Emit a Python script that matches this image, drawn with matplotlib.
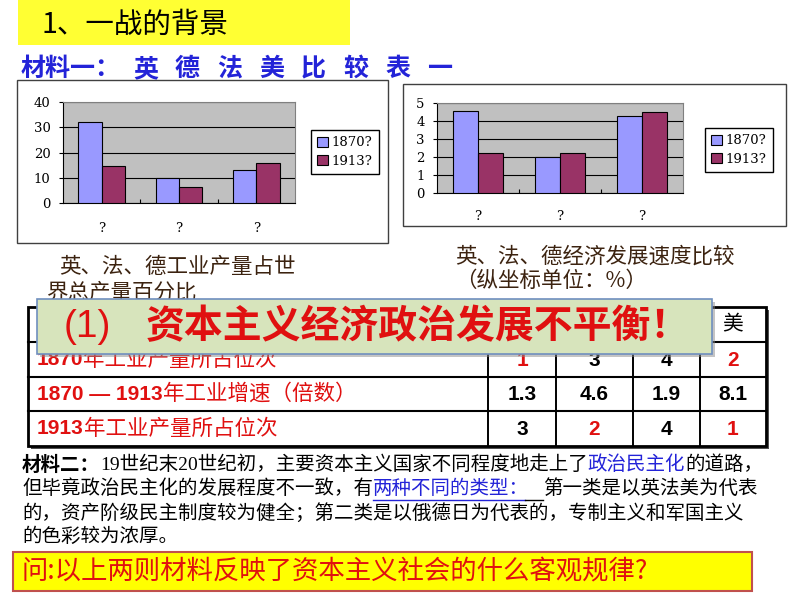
import numpy as np
import matplotlib
matplotlib.use("Agg")
import matplotlib.pyplot as plt
from matplotlib.patches import Rectangle

plt.rcParams['font.family'] = ['Noto Sans CJK SC', 'DejaVu Sans']

W, H = 794, 596

# chart data
groups = ['?', '?', '?']
series = ['1870?', '1913?']
share_1870 = [32, 10, 13]
share_1913 = [14.5, 6.2, 16]
speed_1870 = [4.55, 2.0, 4.3]
speed_1913 = [2.2, 2.2, 4.5]

# table data
countries = ['英', '德', '法', '美']
rank_1870 = [1, 3, 4, 2]
growth = [1.3, 4.6, 1.9, 8.1]
rank_1913 = [3, 2, 4, 1]

RED = '#E01010'
BLUE = '#2323D8'
BROWN = '#3C2310'
SERIF = ['Liberation Serif', 'Noto Sans CJK SC']
CHART_FONT = ['DejaVu Serif']

fig = plt.figure(figsize=(W / 100, H / 100), dpi=100)
fig.patch.set_facecolor('white')

# overlay axes in pixel units (1 unit = 1 px, y downwards)
ov = fig.add_axes([0, 0, 1, 1])
ov.set_xlim(0, W)
ov.set_ylim(H, 0)
ov.axis('off')
renderer = fig.canvas.get_renderer()


def runs(x, y, parts, zorder=5):
    """Draw text pieces one after the other, return the end x"""
    for txt, kw in parts:
        t = ov.text(x, y, txt, ha='left', va='center', zorder=zorder, **kw)
        x += t.get_window_extent(renderer).width
    return x


def bar_chart(box, v1, v2, ymax, step, leg_center, xpad):
    x0, y0, x1, y1 = box
    ax = fig.add_axes([x0 / W, 1 - y1 / H, (x1 - x0) / W, (y1 - y0) / H])
    ax.set_facecolor('#C0C0C0')
    pos = np.arange(len(groups))
    w = 0.3
    ax.bar(pos - w / 2, v1, w, color='#9999FF', edgecolor='black', lw=0.8, zorder=3, label=series[0])
    ax.bar(pos + w / 2, v2, w, color='#993366', edgecolor='black', lw=0.8, zorder=3, label=series[1])
    ax.set_xlim(-0.5, len(groups) - 0.5)
    ax.set_ylim(0, ymax)
    ax.set_yticks(np.arange(0, ymax + step / 2, step))
    ax.yaxis.grid(True, color='black', lw=0.8)
    ax.set_axisbelow(True)
    ax.set_xticks(pos[:-1] + 0.5)
    ax.set_xticklabels([])
    ax.set_xticks(pos, minor=True)
    ax.set_xticklabels(groups, minor=True, family=CHART_FONT, fontsize=9.5)
    ax.tick_params(axis='x', which='major', length=3, direction='in', width=0.8)
    ax.tick_params(axis='x', which='minor', length=0, pad=xpad)
    ax.tick_params(axis='y', length=3, width=0.8, pad=6, labelsize=9.5)
    for lab in ax.get_yticklabels():
        lab.set_family(CHART_FONT)
    for s in ['top', 'right']:
        ax.spines[s].set_color('#808080')
    for s in ['left', 'bottom']:
        ax.spines[s].set_color('black')
    ax.legend(loc='center', bbox_to_anchor=(leg_center[0] / W, 1 - leg_center[1] / H),
              bbox_transform=fig.transFigure, fancybox=False, edgecolor='black',
              framealpha=1, prop={'family': CHART_FONT, 'size': 9.5}, handlelength=0.8,
              handleheight=0.8, handletextpad=0.3, borderpad=0.5, labelspacing=0.4)
    return ax


# title bar
ov.add_patch(Rectangle((18, 0), 332, 45, facecolor='#FFFF33', edgecolor='none', zorder=1))
ov.text(42, 25, '1、一战的背景', fontsize=20.5, color='black', va='center', zorder=5)

# heading material one
runs(21, 69, [('材料一：', dict(fontsize=18, color=BLUE, fontweight='bold'))])
for i, ch in enumerate('英德法美比较表一'):
    ov.text(133 + i * 42, 69, ch, fontsize=18, color=BLUE, fontweight='bold', va='center', zorder=5)

# chart frames
ov.add_patch(Rectangle((17, 80), 371, 163, facecolor='white', edgecolor='#404040', lw=1, zorder=1))
ov.add_patch(Rectangle((403, 84), 383, 142, facecolor='white', edgecolor='#404040', lw=1, zorder=1))

bar_chart((63, 102, 295, 203), share_1870, share_1913, 40, 10, (345, 152), 14)
bar_chart((437, 103, 683, 193), speed_1870, speed_1913, 5, 1, (739, 150), 12)

# captions
ov.text(59, 267, '英、法、德工业产量占世', fontsize=15.5, color=BROWN, va='center', zorder=2)
ov.text(46, 293, '界总产量百分比', fontsize=15.5, color=BROWN, va='center', zorder=2)
ov.text(455, 257, '英、法、德经济发展速度比较', fontsize=15.5, color=BROWN, va='center', zorder=2)
ov.text(455, 281, '（纵坐标单位：%）', fontsize=15.5, color=BROWN, va='center', zorder=2)

# table
tx0, tx1 = 28, 766
col_x = [tx0, 488, 556, 633, 700, tx1]
row_y = [307, 342, 377, 411, 446]
ov.add_patch(Rectangle((tx0 + 3, row_y[0] + 3), tx1 - tx0, row_y[-1] - row_y[0],
                       facecolor='#505050', edgecolor='none', zorder=2))
ov.add_patch(Rectangle((tx0, row_y[0]), tx1 - tx0, row_y[-1] - row_y[0],
                       facecolor='white', edgecolor='black', lw=2, zorder=3))
for y in row_y[1:-1]:
    ov.plot([tx0, tx1], [y, y], color='black', lw=1.5, zorder=4)
for x in col_x[1:-1]:
    ov.plot([x, x], [row_y[0], row_y[-1]], color='black', lw=1.4, zorder=4)


def cx(i):
    return (col_x[i + 1] + col_x[i + 2]) / 2


def cy(r):
    return (row_y[r] + row_y[r + 1]) / 2


# only the last header cell is visible, the banner hides the others
ov.text(cx(len(countries) - 1), cy(0), countries[-1], fontsize=15, color='black',
        ha='center', va='center', zorder=5)

num = dict(fontsize=15, color=RED, fontweight='bold', family=['Liberation Sans', 'DejaVu Sans'])
cn = dict(fontsize=15.5, color=RED)
runs(37, cy(1), [('1870', num), ('年工业产量所占位次', cn)])
runs(37, cy(2), [('1870 — 1913', num), ('年工业增速（倍数）', cn)])
runs(37, cy(3), [('1913', num), ('年工业产量所占位次', cn)])

for r, vals in [(1, rank_1870), (2, growth), (3, rank_1913)]:
    for i, v in enumerate(vals):
        col = RED if (r != 2 and v <= 2) else 'black'
        ov.text(cx(i), cy(r) + 1, str(v), fontsize=15, fontweight='bold', color=col,
                family=['Liberation Sans', 'DejaVu Sans'], ha='center', va='center', zorder=5)

# green banner over the table
ov.add_patch(Rectangle((40, 302), 675, 55, facecolor='#8A8A8A', edgecolor='none', alpha=0.5, zorder=6))
ov.add_patch(Rectangle((37, 299), 675, 55, facecolor='#D7E4BC', edgecolor='#6F8FBF', lw=1.2, zorder=7))
ov.text(64, 327, '(1)', fontsize=28, color=RED, va='center', family=['Liberation Sans', 'DejaVu Sans'], zorder=8)
ov.text(146, 327, '资本主义经济政治发展不平衡！', fontsize=28, color=RED, fontweight='heavy',
        va='center', zorder=8)

# material two
fs = 14
reg = dict(fontsize=fs, color='black', family=SERIF)
blu = dict(fontsize=fs, color=BLUE, family=SERIF)
runs(22, 465, [('材料二：', dict(fontsize=fs, color='black', fontweight='bold')),
               ('19世纪末20世纪初，主要资本主义国家不同程度地走上了', reg),
               ('政治民主化', blu), ('的道路，', reg)])
xa = runs(22, 489, [('但毕竟政治民主化的发展程度不一致，有', reg)])
xb = runs(xa, 489, [('两种不同的类型：', blu)])
ov.plot([xa, xb - 4], [500, 500], color=BLUE, lw=1, zorder=5)
ov.plot([xb - 4, xb + 14], [500, 500], color='black', lw=1, zorder=5)
runs(xb + 14, 489, [('第一类是以英法美为代表', reg)])
runs(22, 513, [('的，资产阶级民主制度较为健全；第二类是以俄德日为代表的，专制主义和军国主义', reg)])
runs(22, 537, [('的色彩较为浓厚。', reg)])

# question box
ov.add_patch(Rectangle((13, 552), 739, 39, facecolor='#FFFF00', edgecolor='#C0504D', lw=1.5, zorder=2))
ov.text(22, 572, '问:以上两则材料反映了资本主义社会的什么客观规律?', fontsize=19, color=RED,
        va='center', zorder=5)

fig.savefig('out.png', dpi=100)
